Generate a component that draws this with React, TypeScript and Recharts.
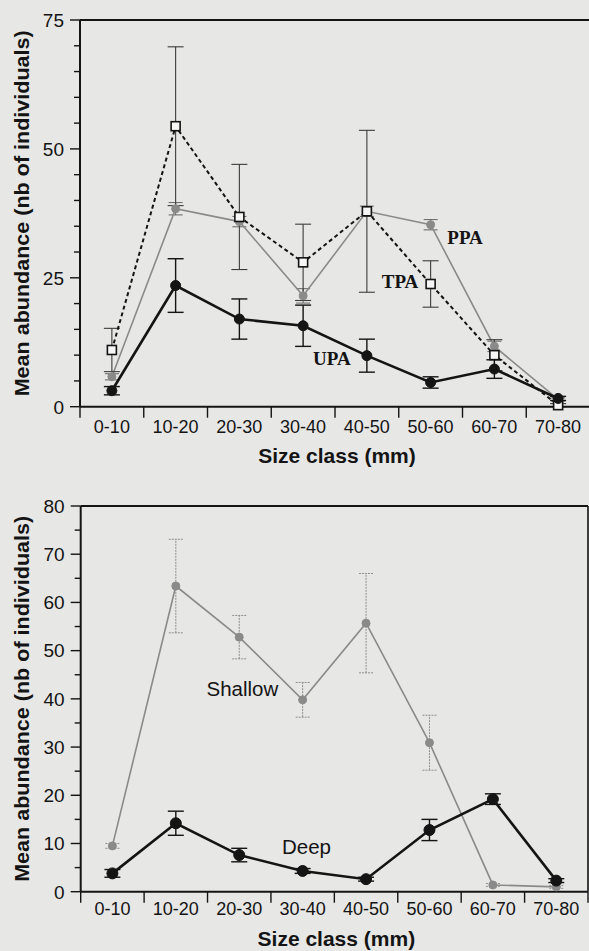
import React from 'react'
import { ErrorBar, Label, Line, LineChart, ReferenceDot, ReferenceLine, XAxis, YAxis } from 'recharts'

const sizeClasses = ['0-10', '10-20', '20-30', '30-40', '40-50', '50-60', '60-70', '70-80']

// top panel: protection areas
const ppa = [5.8, 38.4, 35.9, 21.5, 37.9, 35.3, 11.7, 1.4]
const ppaErr = [0.6, 1.2, 1.0, 1.4, 1.0, 1.0, 1.0, 0.3]
const tpa = [11.0, 54.4, 36.8, 28.0, 37.9, 23.8, 10.0, 0.3]
const tpaErr = [4.2, 15.4, 10.2, 7.4, 15.7, 4.5, 3.0, 0.3]
const upa = [3.1, 23.5, 17.0, 15.7, 9.9, 4.7, 7.3, 1.6]
const upaErr = [0.8, 5.2, 3.9, 4.0, 3.2, 1.1, 1.8, 0.4]

// bottom panel: depth
const shallow = [9.5, 63.4, 52.8, 39.8, 55.7, 30.9, 1.4, 1.0]
const shallowErr = [0.5, 9.7, 4.5, 3.6, 10.3, 5.7, 0.3, 0.3]
const deep = [3.8, 14.2, 7.6, 4.3, 2.6, 12.8, 19.2, 2.3]
const deepErr = [0.8, 2.5, 1.4, 0.5, 0.4, 2.2, 1.1, 0.4]

const topTicks = [0, 5, 10, 15, 20, 25, 30, 35, 40, 45, 50, 55, 60, 65, 70, 75]
const bottomTicks = [0, 5, 10, 15, 20, 25, 30, 35, 40, 45, 50, 55, 60, 65, 70, 75, 80]
const xTicks = [0, 0.5, 1, 1.5, 2, 2.5, 3, 3.5, 4, 4.5, 5, 5.5, 6, 6.5, 7, 7.5, 8]

const topData = sizeClasses.map((c, i) => ({
  x: i + 0.5,
  ppa: ppa[i],
  ppaErr: ppaErr[i],
  tpa: tpa[i],
  tpaErr: tpaErr[i],
  upa: upa[i],
  upaErr: upaErr[i],
}))

const bottomData = sizeClasses.map((c, i) => ({
  x: i + 0.5,
  shallow: shallow[i],
  shallowErr: shallowErr[i],
  deep: deep[i],
  deepErr: deepErr[i],
}))

const BG = '#e7e7e6'
const INK = '#141414'
const GREY = '#8a8a8a'
const SANS = '"Liberation Sans", Arial, sans-serif'
const SERIF = '"Liberation Serif", "Times New Roman", serif'

function makeYTick(labelEvery: number) {
  return (props: any) => {
    const { x, y, payload } = props
    const major = payload.value % labelEvery === 0
    return (
      <g>
        <line x1={x - (major ? 10 : 6)} x2={x} y1={y} y2={y} stroke={INK} strokeWidth={1.4} />
        {major && (
          <text x={x - 16} y={y} dy="0.36em" textAnchor="end" fontFamily={SANS} fontSize={19} fill={INK}>
            {payload.value}
          </text>
        )}
      </g>
    )
  }
}

function makeXTick(labelOffset: number) {
  return (props: any) => {
    const { x, y, payload } = props
    const v = payload.value
    if (Number.isInteger(v)) {
      return <line x1={x} x2={x} y1={y} y2={y + 11} stroke={INK} strokeWidth={1.4} />
    }
    return (
      <text x={x} y={y + labelOffset} dy="0.36em" textAnchor="middle" fontFamily={SANS} fontSize={18} fill={INK}>
        {sizeClasses[Math.floor(v)]}
      </text>
    )
  }
}

function yTitle(props: any) {
  const vb = props.viewBox
  const cx = vb.x + 22
  const cy = vb.y + vb.height / 2
  return (
    <text
      x={cx}
      y={cy}
      dy="0.36em"
      textAnchor="middle"
      transform={`rotate(-90 ${cx} ${cy})`}
      fontFamily={SANS}
      fontWeight="bold"
      fontSize={19.5}
      textLength={366}
      lengthAdjust="spacingAndGlyphs"
      fill={INK}
    >
      Mean abundance (nb of individuals)
    </text>
  )
}

function makeXTitle(offset: number) {
  return (props: any) => {
    const vb = props.viewBox
    return (
      <text
        x={vb.x + vb.width / 2 + 2}
        y={vb.y + offset}
        dy="0.36em"
        textAnchor="middle"
        fontFamily={SANS}
        fontWeight="bold"
        fontSize={21}
        fill={INK}
      >
        Size class (mm)
      </text>
    )
  }
}

function SquareDot(props: any) {
  const { cx, cy, index } = props
  if (cx == null || cy == null) return null
  return (
    <rect key={`sq-${index}`} x={cx - 4.5} y={cy - 4.5} width={9} height={9} fill="#f6f6f6" stroke={INK} strokeWidth={1.6} />
  )
}

const serifLabel = (value: string) => ({
  value,
  position: 'center' as const,
  fontFamily: SERIF,
  fontWeight: 'bold',
  fontSize: 19,
  fill: INK,
})

const sansLabel = (value: string) => ({
  value,
  position: 'center' as const,
  fontFamily: SANS,
  fontSize: 20.5,
  fill: INK,
})

function TopChart() {
  return (
    <LineChart width={600} height={470} data={topData} margin={{ top: 20, right: 10, left: 0, bottom: 0 }}>
      <XAxis
        dataKey="x"
        type="number"
        domain={[0, 8]}
        ticks={xTicks}
        interval={0}
        height={63.3}
        tickSize={0}
        tickMargin={0}
        tick={makeXTick(20)}
        tickLine={false}
        axisLine={{ stroke: INK, strokeWidth: 2 }}
      >
        <Label content={makeXTitle(48.5)} />
      </XAxis>
      <YAxis
        type="number"
        domain={[0, 75]}
        ticks={topTicks}
        interval={0}
        width={80}
        tickSize={0}
        tickMargin={0}
        tick={makeYTick(25)}
        tickLine={false}
        axisLine={{ stroke: INK, strokeWidth: 2 }}
      >
        <Label content={yTitle} />
      </YAxis>
      <ReferenceLine y={75} stroke={INK} strokeWidth={2} />
      <Line
        dataKey="ppa"
        stroke={GREY}
        strokeWidth={1.6}
        dot={{ r: 4, fill: GREY, stroke: GREY, strokeWidth: 1 }}
        isAnimationActive={false}
      >
        <ErrorBar dataKey="ppaErr" direction="y" width={7} stroke="#6e6e6e" strokeWidth={1.1} />
      </Line>
      <Line
        dataKey="tpa"
        stroke={INK}
        strokeWidth={2}
        strokeDasharray="4 3"
        dot={SquareDot}
        isAnimationActive={false}
      >
        <ErrorBar dataKey="tpaErr" direction="y" width={8} stroke="#3c3c3c" strokeWidth={1.1} />
      </Line>
      <Line
        dataKey="upa"
        stroke={INK}
        strokeWidth={2.6}
        dot={{ r: 5, fill: INK, stroke: INK, strokeWidth: 1 }}
        isAnimationActive={false}
      >
        <ErrorBar dataKey="upaErr" direction="y" width={8} stroke={INK} strokeWidth={1.4} />
      </Line>
      <ReferenceDot x={6.04} y={32.8} r={0} fill="none" stroke="none" label={serifLabel('PPA')} />
      <ReferenceDot x={5.02} y={24.3} r={0} fill="none" stroke="none" label={serifLabel('TPA')} />
      <ReferenceDot x={3.95} y={9.4} r={0} fill="none" stroke="none" label={serifLabel('UPA')} />
    </LineChart>
  )
}

function BottomChart() {
  return (
    <LineChart width={589} height={465} data={bottomData} margin={{ top: 20, right: 1, left: 0, bottom: 0 }}>
      <XAxis
        dataKey="x"
        type="number"
        domain={[0, 8]}
        ticks={xTicks}
        interval={0}
        height={59.3}
        tickSize={0}
        tickMargin={0}
        tick={makeXTick(17)}
        tickLine={false}
        axisLine={{ stroke: INK, strokeWidth: 2 }}
      >
        <Label content={makeXTitle(46.5)} />
      </XAxis>
      <YAxis
        type="number"
        domain={[0, 80]}
        ticks={bottomTicks}
        interval={0}
        width={80.7}
        tickSize={0}
        tickMargin={0}
        tick={makeYTick(10)}
        tickLine={false}
        axisLine={{ stroke: INK, strokeWidth: 2 }}
      >
        <Label content={yTitle} />
      </YAxis>
      <ReferenceLine y={80} stroke={INK} strokeWidth={2} />
      <ReferenceLine x={8} stroke={INK} strokeWidth={1.6} />
      <Line
        dataKey="shallow"
        stroke={GREY}
        strokeWidth={1.6}
        dot={{ r: 4, fill: GREY, stroke: GREY, strokeWidth: 1 }}
        isAnimationActive={false}
      >
        <ErrorBar dataKey="shallowErr" direction="y" width={7} stroke="#8e8e8e" strokeWidth={1} strokeDasharray="2 1" />
      </Line>
      <Line
        dataKey="deep"
        stroke={INK}
        strokeWidth={2.6}
        dot={{ r: 5.5, fill: INK, stroke: INK, strokeWidth: 1 }}
        isAnimationActive={false}
      >
        <ErrorBar dataKey="deepErr" direction="y" width={8} stroke={INK} strokeWidth={1.4} />
      </Line>
      <ReferenceDot x={2.55} y={42} r={0} fill="none" stroke="none" label={sansLabel('Shallow')} />
      <ReferenceDot x={3.56} y={9.3} r={0} fill="none" stroke="none" label={sansLabel('Deep')} />
    </LineChart>
  )
}

export default function App() {
  return (
    <div
      style={{
        position: 'absolute',
        left: 0,
        top: 0,
        width: 589,
        height: 951,
        overflow: 'hidden',
        background: BG,
      }}
    >
      <div style={{ position: 'absolute', left: 0, top: 0 }}>
        <TopChart />
      </div>
      <div style={{ position: 'absolute', left: 0, top: 486 }}>
        <BottomChart />
      </div>
    </div>
  )
}
